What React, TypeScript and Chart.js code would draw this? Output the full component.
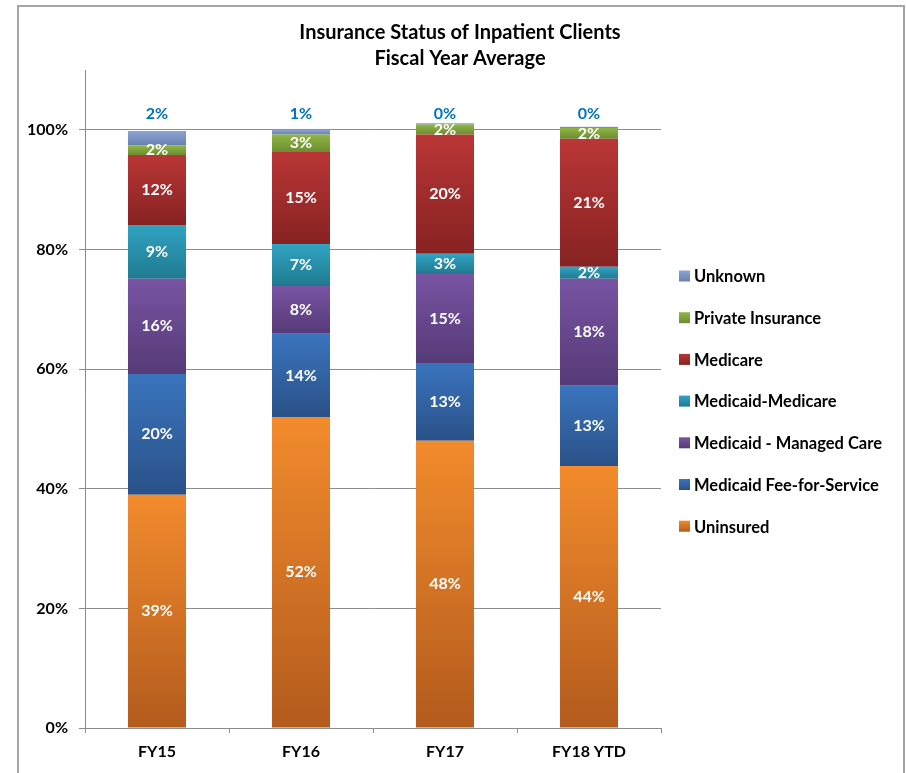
import React, { useEffect, useRef } from "react";
import { Chart, registerables } from "chart.js";

Chart.register(...registerables);

const categories = ["FY15", "FY16", "FY17", "FY18 YTD"];
const seriesNames = [
  "Uninsured",
  "Medicaid Fee-for-Service",
  "Medicaid - Managed Care",
  "Medicaid-Medicare",
  "Medicare",
  "Private Insurance",
  "Unknown",
];
const uninsured = [39.0, 52.0, 48.0, 43.8];
const feeForService = [20.2, 13.9, 13.0, 13.4];
const managedCare = [15.9, 8.0, 14.9, 17.9];
const medicaidMedicare = [9.0, 7.0, 3.4, 2.0];
const medicare = [11.7, 15.4, 19.9, 21.4];
const privateInsurance = [1.6, 2.9, 1.7, 1.8];
const unknown = [2.4, 0.8, 0.2, 0.2];
const yTickValues = [0, 20, 40, 60, 80, 100];

const seriesValues = [uninsured, feeForService, managedCare, medicaidMedicare, medicare, privateInsurance, unknown];
const topColors = ["#F28B2C", "#3A74BE", "#7854A3", "#31A3C3", "#BA3636", "#90B645", "#8CA4D6"];
const bottomColors = ["#B35B1D", "#2A5188", "#563A77", "#1F7A90", "#872222", "#6C8C31", "#6A7FAE"];

const FONT = "Lato, 'Open Sans', sans-serif";

export default function App() {
  const canvasRef = useRef<HTMLCanvasElement>(null);

  useEffect(() => {
    const canvas = canvasRef.current;
    if (!canvas) return;

    const gradientFor = (i: number) => (ctx: any) => {
      const chart = ctx.chart;
      const ys = chart.scales && chart.scales.y;
      if (ctx.type !== "data" || !ys || !chart.chartArea) return topColors[i];
      const di = ctx.dataIndex;
      let start = 0;
      for (let k = 0; k < i; k++) start += seriesValues[k][di];
      const end = start + seriesValues[i][di];
      const y0 = ys.getPixelForValue(start);
      const y1 = ys.getPixelForValue(end);
      if (!isFinite(y0) || !isFinite(y1) || y0 === y1) return topColors[i];
      const g = chart.ctx.createLinearGradient(0, y1, 0, y0);
      g.addColorStop(0, topColors[i]);
      g.addColorStop(1, bottomColors[i]);
      return g;
    };

    const framePlugin = {
      id: "frame",
      beforeDraw(chart: any) {
        const c = chart.ctx;
        c.save();
        c.fillStyle = "#ffffff";
        c.fillRect(0, 0, chart.width, chart.height);
        c.strokeStyle = "#A6A6A6";
        c.lineWidth = 2;
        c.strokeRect(18, 6, 886, 800);
        c.restore();
      },
    };

    const textPlugin = {
      id: "texts",
      afterDraw(chart: any) {
        const c = chart.ctx;
        const ys = chart.scales.y;
        c.save();
        // title
        c.fillStyle = "#000000";
        c.font = `bold 20px ${FONT}`;
        c.textAlign = "center";
        c.textBaseline = "middle";
        c.fillText("Insurance Status of Inpatient Clients", 460, 33);
        c.fillText("Fiscal Year Average", 460, 59);

        // data labels
        c.font = `bold 16px ${FONT}`;
        const n = seriesNames.length;
        for (let i = 0; i < n; i++) {
          const meta = chart.getDatasetMeta(i);
          meta.data.forEach((el: any, j: number) => {
            const v = seriesValues[i][j];
            const label = Math.round(v) + "%";
            if (i === n - 1) {
              c.fillStyle = "#0070C0";
              c.fillText(label, el.x, ys.getPixelForValue(102.6));
            } else {
              c.fillStyle = "#FFFFFF";
              c.fillText(label, el.x, (el.y + el.base) / 2);
            }
          });
        }

        // legend (reversed)
        c.textAlign = "left";
        c.font = `bold 16.5px ${FONT}`;
        for (let k = 0; k < n; k++) {
          const i = n - 1 - k;
          const cy = 276 + k * 41.7;
          const g = c.createLinearGradient(0, cy - 5.5, 0, cy + 5.5);
          g.addColorStop(0, topColors[i]);
          g.addColorStop(1, bottomColors[i]);
          c.fillStyle = g;
          c.fillRect(679, cy - 5.5, 11, 11);
          c.fillStyle = "#000000";
          c.fillText(seriesNames[i], 694, cy + 1);
        }
        c.restore();
      },
    };

    const chart = new Chart(canvas, {
      type: "bar",
      data: {
        labels: categories,
        datasets: seriesNames.map((name, i) => ({
          label: name,
          data: seriesValues[i],
          backgroundColor: gradientFor(i),
          borderWidth: 0,
          categoryPercentage: 1,
          barPercentage: 0.403,
        })),
      },
      options: {
        responsive: false,
        maintainAspectRatio: false,
        animation: false,
        devicePixelRatio: 1,
        layout: { padding: { left: 17, right: 245, top: 70, bottom: 5 } },
        plugins: {
          legend: { display: false },
          title: { display: false },
          tooltip: { enabled: false },
        },
        scales: {
          x: {
            stacked: true,
            grid: {
              offset: true,
              drawOnChartArea: false,
              drawTicks: true,
              tickLength: 5,
              color: "#8C8C8C",
            },
            border: { display: true, color: "#8C8C8C" },
            ticks: {
              color: "#000000",
              padding: 9,
              font: { family: FONT, size: 16, weight: "bold" },
            },
            afterFit(scale: any) {
              scale.height = 40;
            },
          },
          y: {
            stacked: true,
            min: 0,
            max: 110,
            afterBuildTicks(scale: any) {
              scale.ticks = yTickValues.map((v) => ({ value: v }));
            },
            afterFit(scale: any) {
              scale.width = 68;
            },
            grid: { color: "#8C8C8C", tickLength: 6, drawTicks: true },
            border: { display: true, color: "#8C8C8C" },
            ticks: {
              color: "#000000",
              padding: 11,
              font: { family: FONT, size: 16, weight: "bold" },
              callback: (v: any) => v + "%",
            },
          },
        },
      },
      plugins: [framePlugin, textPlugin],
    });

    return () => chart.destroy();
  }, []);

  return (
    <div style={{ position: "absolute", left: 0, top: 0, width: 906, height: 773 }}>
      <canvas ref={canvasRef} width={906} height={773} style={{ display: "block" }} />
    </div>
  );
}
